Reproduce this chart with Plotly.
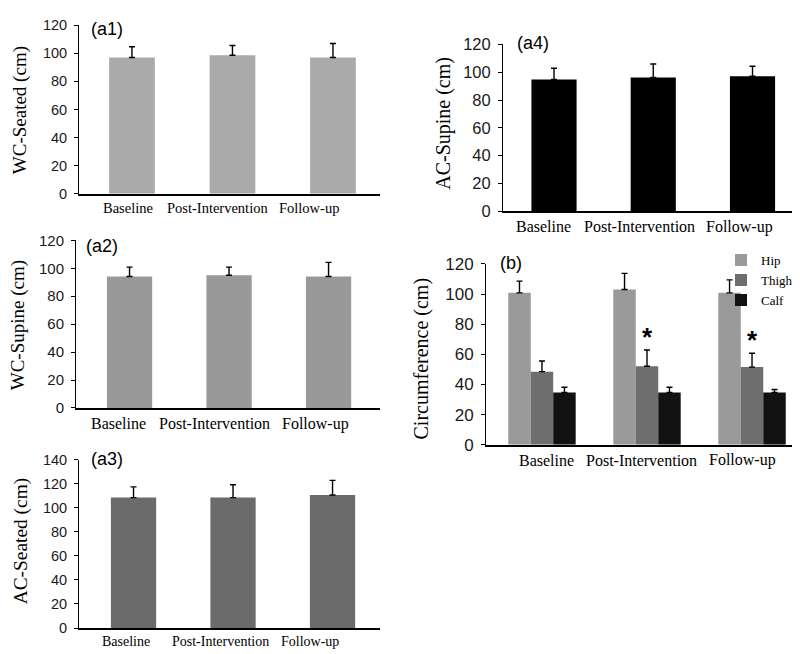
import plotly.graph_objects as go

# ---------------- data ----------------
categories = ["Baseline", "Post-Intervention", "Follow-up"]

wc_seated = [97.0, 98.6, 97.0]
wc_seated_sd = [7.6, 6.9, 9.9]
wc_supine = [94.1, 95.0, 94.1]
wc_supine_sd = [6.7, 5.8, 10.1]
ac_seated = [108.5, 108.5, 110.7]
ac_seated_sd = [8.9, 10.7, 12.1]
ac_supine = [94.8, 96.2, 97.1]
ac_supine_sd = [8.1, 9.8, 7.2]

hip = [100.8, 103.0, 100.8]
hip_sd = [7.8, 10.7, 8.6]
thigh = [48.5, 52.1, 51.5]
thigh_sd = [7.1, 10.8, 9.2]
calf = [34.7, 34.7, 34.7]
calf_sd = [3.4, 3.4, 1.9]
thigh_significant = [False, True, True]

y_ticks_120 = [0, 20, 40, 60, 80, 100, 120]
y_ticks_140 = [0, 20, 40, 60, 80, 100, 120, 140]

# ---------------- layout helpers ----------------
W, H = 800, 654
SERIF = "Liberation Serif, Times New Roman, serif"
SANS = "Liberation Sans, Arial, sans-serif"


def px_x(x):
    return x / W


def px_y(y):
    return 1 - y / H


fig = go.Figure()

panels = {
    "a1": dict(n="", xd=(71, 372), y0=182, yt=8.4, ymax=120, xr=(-0.527, 2.468), tv=y_ticks_120, tf=14.5),
    "a2": dict(n="2", xd=(68, 372), y0=402.7, yt=230, ymax=120, xr=(-0.538, 2.517), tv=y_ticks_120, tf=15),
    "a3": dict(n="3", xd=(71, 372), y0=629.3, yt=456, ymax=140, xr=(-0.548, 2.477), tv=y_ticks_140, tf=14.5),
    "a4": dict(n="4", xd=(495, 798), y0=200, yt=28.3, ymax=120, xr=(-0.514, 2.539), tv=y_ticks_120, tf=16.5),
    "b": dict(n="5", xd=(478, 800), y0=440.5, yt=254.3, ymax=120, xr=(-0.533, 2.533), tv=y_ticks_120, tf=17),
}

layout_axes = {}
for key, p in panels.items():
    n = p["n"]
    layout_axes["xaxis" + n] = dict(
        domain=[px_x(p["xd"][0]), px_x(p["xd"][1])],
        anchor="y" + n,
        range=list(p["xr"]),
        type="category",
        showline=True, linecolor="black", linewidth=2,
        showticklabels=False, ticks="", showgrid=False, zeroline=False,
        fixedrange=True,
    )
    layout_axes["yaxis" + n] = dict(
        domain=[px_y(p["y0"]), px_y(p["yt"])],
        anchor="x" + n,
        range=[0, p["ymax"]],
        tickvals=p["tv"],
        showline=True, linecolor="black", linewidth=1,
        ticks="outside", ticklen=4, tickwidth=1, tickcolor="black",
        tickfont=dict(family=SANS, size=p["tf"], color="#1a1a1a"),
        ticklabelstandoff=4,
        showgrid=False, zeroline=False, fixedrange=True,
    )


def err(arr):
    return dict(type="data", array=arr, arrayminus=[0] * len(arr), symmetric=False,
                color="black", thickness=1.4, width=3)


def single(key, values, sd, color):
    n = panels[key]["n"]
    fig.add_trace(go.Bar(
        x=categories, y=values, error_y=err(sd), width=0.455,
        marker=dict(color=color, line=dict(width=0)),
        xaxis="x" + n, yaxis="y" + n, showlegend=False,
    ))


single("a1", wc_seated, wc_seated_sd, "#aaaaaa")
single("a2", wc_supine, wc_supine_sd, "#999999")
single("a3", ac_seated, ac_seated_sd, "#6b6b6b")
single("a4", ac_supine, ac_supine_sd, "#000000")

bw = 0.214
for i, (name, vals, sd, col) in enumerate([
    ("Hip", hip, hip_sd, "#9a9a9a"),
    ("Thigh", thigh, thigh_sd, "#6e6e6e"),
    ("Calf", calf, calf_sd, "#111111"),
]):
    fig.add_trace(go.Bar(
        x=categories, y=vals, name=name, error_y=err(sd),
        width=bw, offset=(i - 1.5) * bw,
        marker=dict(color=col, line=dict(width=0)),
        xaxis="x5", yaxis="y5", showlegend=True,
    ))

annotations = []

# significance stars
for c, v, s, sig in zip(categories, thigh, thigh_sd, thigh_significant):
    if sig:
        annotations.append(dict(
            x=c, y=v + s, xref="x5", yref="y5", text="<b>*</b>", showarrow=False,
            xanchor="center", yanchor="bottom", yshift=-4,
            font=dict(family=SANS, size=26, color="black"),
        ))

# y-axis titles
titles = [
    ("WC-Seated (cm)", 12, 96, 19),
    ("WC-Supine (cm)", 10, 317.5, 19),
    ("AC-Seated (cm)", 13, 540, 19.4),
    ("AC-Supine (cm)", 436, 110, 20),
    ("Circumference (cm)", 413, 351.7, 20),
]
for t, x, y, s in titles:
    annotations.append(dict(
        x=px_x(x), y=px_y(y), xref="paper", yref="paper", text=t, showarrow=False,
        textangle=-90, xanchor="center", yanchor="middle",
        font=dict(family=SERIF, size=s, color="black"),
    ))

# panel tags
for t, x, y in [("(a1)", 99, 12), ("(a2)", 93.5, 236), ("(a3)", 99, 455),
                ("(a4)", 524.5, 27), ("(b)", 502.5, 253)]:
    annotations.append(dict(
        x=px_x(x), y=px_y(y), xref="paper", yref="paper", text=t, showarrow=False,
        xanchor="center", yanchor="middle",
        font=dict(family=SANS, size=18, color="black"),
    ))

# category labels (drawn as text under each panel)
cat_label_pos = [
    ((120, 209.5, 300.5), 197, 14.5),
    ((110.7, 207, 307.7), 419, 16),
    ((118, 212, 301.7), 643, 14),
    ((535.8, 631, 731.7), 216, 16),
    ((538, 633.8, 734.7), 456.7, 16),
]
for xs, y, s in cat_label_pos:
    for c, x in zip(categories, xs):
        annotations.append(dict(
            x=px_x(x), y=px_y(y), xref="paper", yref="paper", text=c, showarrow=False,
            xanchor="center", yanchor="middle",
            font=dict(family=SERIF, size=s, color="black"),
        ))

fig.update_layout(
    width=W, height=H,
    margin=dict(l=0, r=0, t=0, b=0),
    paper_bgcolor="white", plot_bgcolor="white",
    barmode="overlay",
    showlegend=True,
    legend=dict(
        x=px_x(713), y=px_y(235), xanchor="left", yanchor="top",
        bgcolor="rgba(0,0,0,0)", font=dict(family=SERIF, size=13, color="black"),
        tracegroupgap=0, itemwidth=30, traceorder="normal",
    ),
    annotations=annotations,
    **layout_axes,
)

fig.write_html("out.html")
